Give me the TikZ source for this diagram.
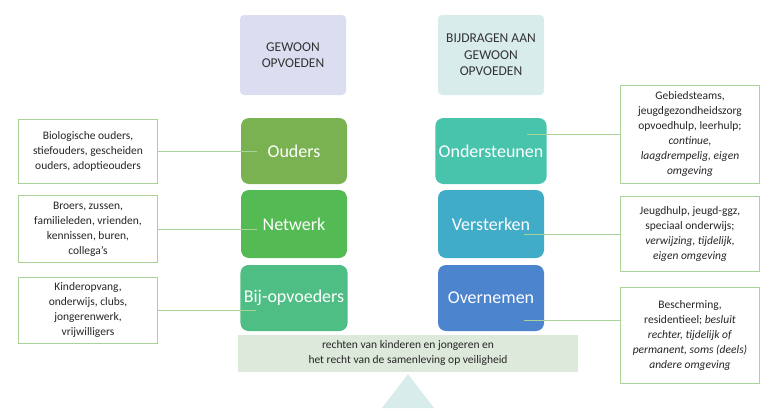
\documentclass[tikz,border=0pt]{standalone}
\usepackage{fontspec}
\setmainfont{Carlito}
\usetikzlibrary{positioning}
\definecolor{headLcolor}{RGB}{219,222,241}
\definecolor{headRcolor}{RGB}{216,236,235}
\definecolor{oudcolor}{RGB}{122,178,82}
\definecolor{netcolor}{RGB}{84,186,84}
\definecolor{bijcolor}{RGB}{78,190,132}
\definecolor{ondcolor}{RGB}{72,196,172}
\definecolor{verscolor}{RGB}{64,172,200}
\definecolor{overcolor}{RGB}{76,132,206}
\definecolor{barcolor}{RGB}{221,233,219}
\definecolor{linecolor}{RGB}{170,210,150}
\tikzset{
  headbox/.style={rounded corners=4pt, minimum width=106pt, minimum height=80pt,
    align=center, font=\fontsize{13.5}{16.5}\selectfont, text=black!80},
  pillar/.style={rounded corners=8pt, minimum width=106pt, minimum height=66pt,
    text=white, font=\fontsize{18}{20}\selectfont},
  infobox/.style={draw=linecolor, line width=0.8pt, fill=white, minimum width=139pt,
    align=center, font=\fontsize{11.5}{15}\selectfont, text=black!85, inner sep=2pt},
  link/.style={linecolor, line width=0.8pt}
}
\begin{document}
\begin{tikzpicture}[x=1pt, y=-1pt]
\useasboundingbox (0,0) rectangle (772,408);

% kolomkoppen
\node[headbox, fill=headLcolor] (gewoon) at (293,55) {GEWOON\\OPVOEDEN};
\node[headbox, fill=headRcolor] (bijdragen) at (491,55) {BIJDRAGEN AAN\\GEWOON\\OPVOEDEN};

% pijlers
\node[pillar, fill=oudcolor] (ouders) at (294,151) {Ouders};
\node[pillar, fill=netcolor, minimum height=68pt] (netwerk) at (294,224) {Netwerk};
\node[pillar, fill=bijcolor] (bij) at (294,298) {Bij-opvoeders};
\node[pillar, fill=ondcolor] (onder) at (491,151) {Ondersteunen};
\node[pillar, fill=verscolor, minimum height=68pt] (verst) at (491,224) {Versterken};
\node[pillar, fill=overcolor] (overn) at (491,298) {Overnemen};

% voetstuk
\node[fill=barcolor, minimum width=340pt, minimum height=37pt, align=center,
  font=\fontsize{11.5}{15}\selectfont, text=black!85, inner sep=1pt] (recht) at (408,353)
  {rechten van kinderen en  jongeren en\\het recht van de samenleving op veiligheid};
\fill[headRcolor] (408,374) -- (434,408) -- (382,408) -- cycle;

% toelichting links
\node[infobox, minimum height=64pt] (bioL) at (88,151)
  {Biologische ouders,\\stiefouders, gescheiden\\ouders, adoptieouders};
\node[infobox, minimum height=67pt] (broL) at (88,229)
  {Broers, zussen,\\familieleden, vrienden,\\kennissen, buren,\\collega’s};
\node[infobox, minimum height=66pt] (kinL) at (88,310)
  {Kinderopvang,\\onderwijs, clubs,\\jongerenwerk,\\vrijwilligers};

% toelichting rechts
\node[infobox, minimum height=98pt] (gebR) at (690,134)
  {Gebiedsteams,\\jeugdgezondheidszorg\\opvoedhulp, leerhulp;\\\textit{continue,}\\\textit{laagdrempelig, eigen}\\\textit{omgeving}};
\node[infobox, minimum height=75pt] (jeuR) at (690,234)
  {Jeugdhulp, jeugd-ggz,\\speciaal onderwijs;\\\textit{verwijzing, tijdelijk,}\\\textit{eigen omgeving}};
\node[infobox, minimum height=96pt] (besR) at (690,335)
  {Bescherming,\\residentieel;  \textit{besluit}\\\textit{rechter, tijdelijk of}\\\textit{permanent, soms (deels)}\\\textit{andere omgeving}};
\coordinate (besIn) at ([yshift=15pt]besR.west);

% verbindingen
\draw[link] (bioL.east) -- ([xshift=16pt]ouders.west |- bioL.east);
\draw[link] (broL.east) -- ([xshift=16pt]netwerk.west |- broL.east);
\draw[link] (kinL.east) -- ([xshift=16pt]bij.west |- kinL.east);
\draw[link] ([xshift=-20pt]onder.east |- gebR.west) -- (gebR.west);
\draw[link] ([xshift=-20pt]verst.east |- jeuR.west) -- (jeuR.west);
\draw[link] ([xshift=-20pt]overn.east |- besIn) -- (besIn);
\end{tikzpicture}
\end{document}
